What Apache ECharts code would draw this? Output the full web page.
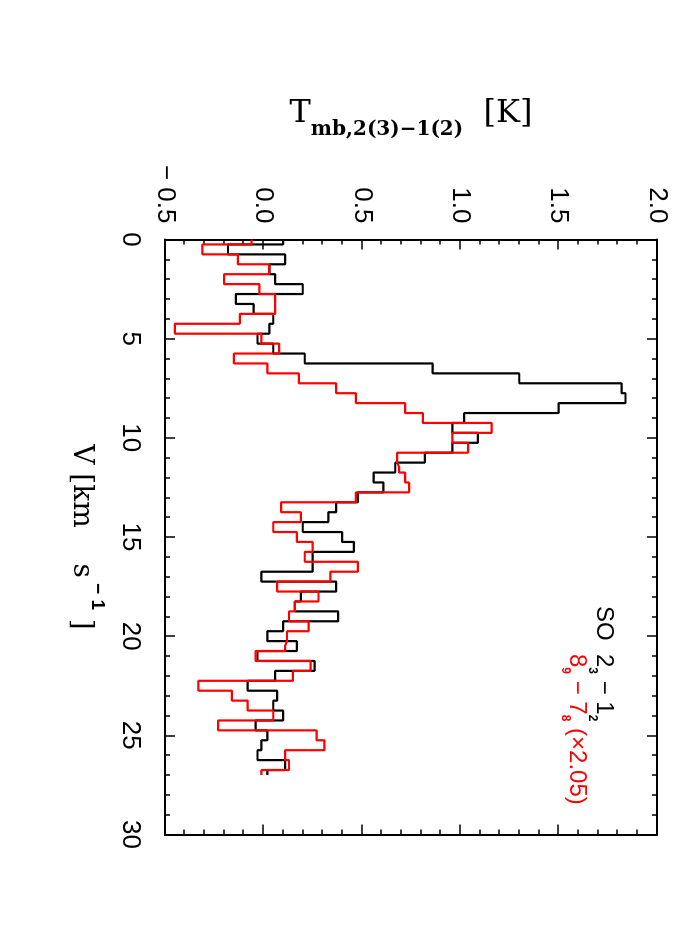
<!DOCTYPE html>
<html>
<head>
<meta charset="utf-8">
<script src="https://cdn.jsdelivr.net/npm/echarts@6/dist/echarts.min.js"></script>
<style>
  html, body { margin: 0; padding: 0; width: 700px; height: 950px; overflow: hidden; background: #fff; }
  /* the figure is drawn landscape and turned a quarter clockwise, like the printed page */
  #container {
    position: absolute; left: 0; top: 0; width: 950px; height: 700px;
    transform-origin: 0 0; transform: translate(700px, 0) rotate(90deg);
  }
</style>
</head>
<body>
<div id="container"></div>
<script>
// channel centres, km/s
var velocity = [0.0, 0.5, 1.0, 1.5, 2.0, 2.5, 3.0, 3.5, 4.0, 4.5,
  5.0, 5.5, 6.0, 6.5, 7.0, 7.5, 8.0, 8.5, 9.0, 9.5,
  10.0, 10.5, 11.0, 11.5, 12.0, 12.5, 13.0, 13.5, 14.0, 14.5,
  15.0, 15.5, 16.0, 16.5, 17.0, 17.5, 18.0, 18.5, 19.0, 19.5,
  20.0, 20.5, 21.0, 21.5, 22.0, 22.5, 23.0, 23.5, 24.0, 24.5,
  25.0, 25.5, 26.0, 26.5, 27.0];

// SO 2(3)-1(2), K
var tmbSO23 = [0.10, -0.18, 0.11, 0.03, 0.06, 0.20, -0.14, -0.05, 0.05, 0.03,
  -0.03, 0.05, 0.21, 0.86, 1.30, 1.82, 1.84, 1.50, 1.02, 0.96,
  1.09, 0.96, 0.82, 0.67, 0.56, 0.61, 0.48, 0.37, 0.33, 0.20,
  0.40, 0.46, 0.25, 0.25, -0.01, 0.37, 0.19, 0.16, 0.38, 0.10,
  0.02, 0.17, -0.03, 0.26, 0.06, -0.08, 0.07, 0.05, 0.10, -0.04,
  0.02, -0.01, -0.03, 0.11, 0.02];

// SO 8(9)-7(8), already scaled x2.05, K
var tmbSO89 = [-0.06, -0.31, -0.13, 0.03, -0.20, -0.02, 0.06, 0.06, -0.12, -0.45,
  -0.01, 0.08, -0.15, 0.02, 0.18, 0.37, 0.47, 0.72, 0.81, 1.16,
  0.96, 1.04, 0.68, 0.69, 0.72, 0.74, 0.47, 0.09, 0.19, 0.05,
  0.17, 0.25, 0.21, 0.48, 0.34, 0.07, 0.28, 0.16, 0.13, 0.23,
  0.12, 0.11, -0.04, 0.24, 0.15, -0.33, -0.16, -0.08, 0.05, -0.23,
  0.27, 0.31, 0.11, 0.13, -0.01];

var vTicks = [0, 5, 10, 15, 20, 25, 30];
var tTicks = [-0.5, 0.0, 0.5, 1.0, 1.5, 2.0];

function pairs(ys) {
  return velocity.map(function(v, i) { return [v, ys[i]]; });
}

var sansFont = '"Liberation Sans", Arial, sans-serif';
var serifFont = '"DejaVu Serif", serif';

var dom = document.getElementById('container');
var myChart = echarts.init(dom);

function frameAxis(extra) {
  var base = {
    type: 'value',
    axisLine: { show: true, onZero: false, lineStyle: { color: '#000', width: 2 } },
    axisTick: { show: true, inside: true, length: 10, lineStyle: { color: '#000', width: 1.5 } },
    minorTick: { show: true, splitNumber: 5, length: 5, lineStyle: { color: '#000', width: 1.5 } },
    splitLine: { show: false },
    minorSplitLine: { show: false },
    axisLabel: { show: false }
  };
  return Object.assign(base, extra);
}

function legendRich(color) {
  return {
    n: { fontSize: 24, fontFamily: sansFont, fill: color, lineHeight: 30, verticalAlign: 'top' },
    s: { fontSize: 12, fontFamily: sansFont, fontWeight: 'bold', fill: color, lineHeight: 12, verticalAlign: 'bottom' }
  };
}

var option = {
  animation: false,
  backgroundColor: '#fff',
  grid: { left: 239.5, right: 115.5, top: 43, bottom: 165 },
  xAxis: [
    frameAxis({
      position: 'bottom', min: vTicks[0], max: vTicks[vTicks.length - 1], interval: 5,
      axisLabel: { show: true, fontSize: 26, fontFamily: sansFont, color: '#000', margin: 22 },
      name: '{n|V [km    s}{sup| − 1}{n| ]}',
      nameLocation: 'middle', nameGap: 58,
      nameTextStyle: {
        rich: {
          n: { fontSize: 28, fontFamily: serifFont, color: '#000', lineHeight: 40, verticalAlign: 'bottom' },
          sup: { fontSize: 19, fontFamily: sansFont, fontWeight: 'bold', color: '#000', lineHeight: 22, verticalAlign: 'top' }
        }
      }
    }),
    frameAxis({ position: 'top', min: 0, max: 30, interval: 5 })
  ],
  yAxis: [
    frameAxis({
      position: 'left', min: tTicks[0], max: tTicks[tTicks.length - 1], interval: 0.5,
      axisLabel: {
        show: true, fontSize: 26, fontFamily: sansFont, color: '#000', margin: 16,
        formatter: function(v) { return v < 0 ? '− ' + Math.abs(v).toFixed(1) : v.toFixed(1); }
      },
      name: '{t|T}{s|mb,2(3)−1(2)}{t|  [K]}',
      nameLocation: 'middle', nameGap: 100,
      nameTextStyle: {
        rich: {
          t: { fontSize: 32, fontFamily: serifFont, color: '#000', lineHeight: 42, verticalAlign: 'top' },
          s: { fontSize: 20, fontFamily: serifFont, fontWeight: 'bold', color: '#000', lineHeight: 20, verticalAlign: 'bottom' }
        }
      }
    }),
    frameAxis({ position: 'right', min: -0.5, max: 2.0, interval: 0.5 })
  ],
  graphic: [
    {
      type: 'text', left: 606, top: 84,
      style: { text: '{n|SO}', rich: legendRich('#000') }
    },
    {
      type: 'text', left: 654, top: 84,
      style: { text: '{n|2}{s|3}{n| − 1}{s|2}', rich: legendRich('#000') }
    },
    {
      type: 'text', left: 654, top: 111,
      style: { text: '{n|8}{s|9}{n| − 7}{s|8}  {n|(×2.05)}', rich: legendRich('#ff0000') }
    }
  ],
  series: [
    {
      name: 'SO 2(3)-1(2)', type: 'line', step: 'middle', showSymbol: false,
      data: pairs(tmbSO23),
      lineStyle: { color: '#000', width: 2.2 }
    },
    {
      name: 'SO 8(9)-7(8) x2.05', type: 'line', step: 'middle', showSymbol: false,
      data: pairs(tmbSO89),
      lineStyle: { color: '#ff0000', width: 2.2 }
    }
  ]
};

myChart.setOption(option);
</script>
</body>
</html>
